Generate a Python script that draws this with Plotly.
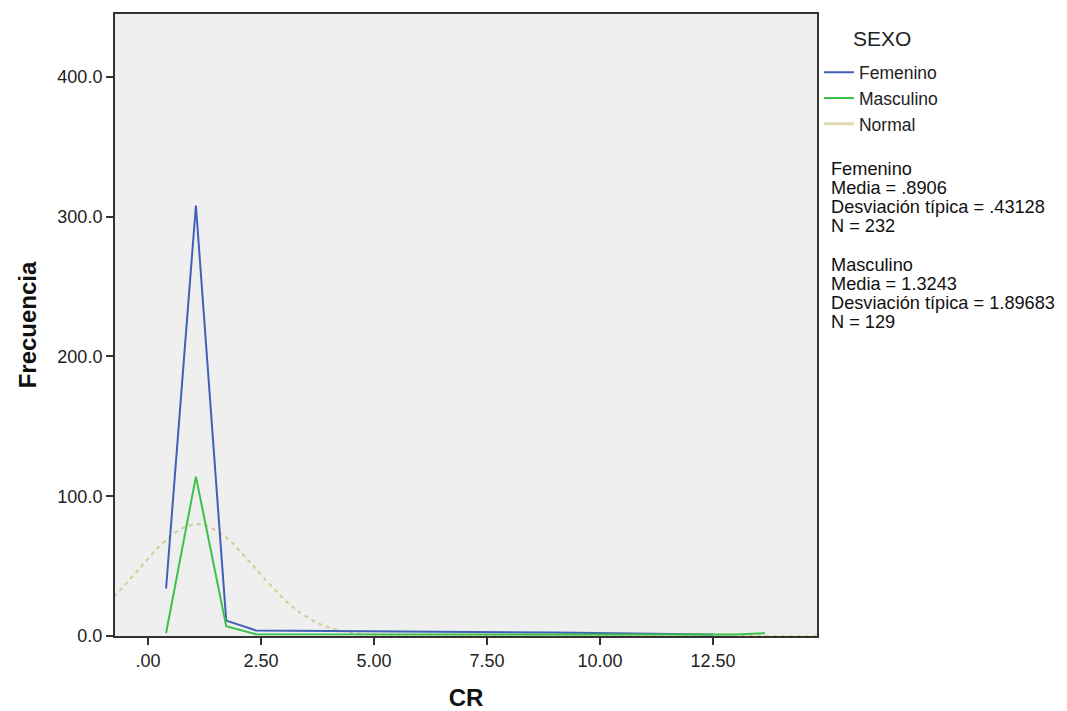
import plotly.graph_objects as go

# Frequency polygon points (CR bin midpoints)
fem_x = [0.40, 1.06, 1.73, 2.39, 9.00, 12.50]
fem_y = [34, 308, 11, 4, 2.5, 1]
mas_x = [0.40, 1.06, 1.73, 2.39, 13.00, 13.65]
mas_y = [2, 114, 7, 1.2, 1, 2]
# Normal curve points
norm_x = [-0.75, -0.25, 0.25, 0.75, 1.10, 1.25, 1.75, 2.25, 2.75, 3.25, 3.75, 4.25, 4.75, 5.25, 5.75, 6.5, 8, 10, 12, 14, 14.8]
norm_y = [28, 46, 64, 77, 80, 79.5, 70, 53, 35, 19.5, 9.4, 3.9, 1.4, 0.5, 0.15, 0.05, 0, 0, 0, 0, 0]

x_ticks = [0, 2.5, 5, 7.5, 10, 12.5]
x_ticklabels = [".00", "2.50", "5.00", "7.50", "10.00", "12.50"]
y_ticks = [0, 100, 200, 300, 400]
y_ticklabels = ["0.0", "100.0", "200.0", "300.0", "400.0"]

stats_fem = ["Femenino", "Media = .8906", "Desviación típica = .43128", "N = 232"]
stats_mas = ["Masculino", "Media = 1.3243", "Desviación típica = 1.89683", "N = 129"]

FONT = "Arial, Liberation Sans, sans-serif"
TXT = "#222222"

fig = go.Figure()
fig.add_trace(go.Scatter(x=norm_x, y=norm_y, mode="lines", name="Normal",
                         line=dict(color="#d3cb98", width=2, dash="4px,4px", shape="spline"),
                         showlegend=False))
fig.add_trace(go.Scatter(x=fem_x, y=fem_y, mode="lines", name="Femenino",
                         line=dict(color="#4161b8", width=2), legendgroup="a", legendrank=1))
fig.add_trace(go.Scatter(x=mas_x, y=mas_y, mode="lines", name="Masculino",
                         line=dict(color="#3cc24a", width=2), legendgroup="b", legendrank=2))
# legend entry for Normal (solid sample as in reference)
fig.add_trace(go.Scatter(x=[None], y=[None], mode="lines", name="Normal",
                         line=dict(color="#e0dab0", width=3), legendgroup="c", legendrank=3))

fig.update_layout(
    width=1067, height=711,
    margin=dict(l=115, r=250, t=14, b=75),
    paper_bgcolor="white", plot_bgcolor="#efefef",
    font=dict(family=FONT, size=18, color=TXT),
    showlegend=True,
    legend=dict(x=1.0028, y=0.935, xanchor="left", yanchor="top",
                font=dict(family=FONT, size=17.5, color=TXT),
                tracegroupgap=0, bgcolor="rgba(0,0,0,0)", itemwidth=30),
)
fig.update_xaxes(range=[-0.73, 14.8], tickvals=x_ticks, ticktext=x_ticklabels,
                 showgrid=False, zeroline=False, showline=True, linecolor="#333333",
                 linewidth=2, mirror=True, ticks="outside", ticklen=7, tickwidth=2,
                 tickcolor="#333333", tickfont=dict(size=18), automargin=False,
                 title=dict(text="<b>CR</b>", font=dict(size=24, color="#111111"), standoff=20))
fig.update_yaxes(range=[0, 445], tickvals=y_ticks, ticktext=y_ticklabels,
                 showgrid=False, zeroline=False, showline=True, linecolor="#333333",
                 linewidth=2, mirror=True, ticks="outside", ticklen=7, tickwidth=2,
                 tickcolor="#333333", tickfont=dict(size=18), automargin=False,
                 title=dict(text="<b>Frecuencia</b>", font=dict(size=24, color="#111111"), standoff=14))

fig.add_annotation(text="SEXO", xref="paper", yref="paper",
                   x=(851 - 115) / 702, y=1 - (38 - 14) / 622, xanchor="left", yanchor="middle",
                   showarrow=False, font=dict(size=21, color=TXT))

def add_block(lines, top):
    for i, line in enumerate(lines):
        yy = top + i * 19
        fig.add_annotation(text=line, xref="paper", yref="paper",
                           x=(829 - 115) / 702, y=1 - (yy - 14) / 622,
                           xanchor="left", yanchor="middle", showarrow=False,
                           font=dict(size=18.2, color="#111111"))

add_block(stats_fem, 169)
add_block(stats_mas, 265)

fig.write_html("out.html")
